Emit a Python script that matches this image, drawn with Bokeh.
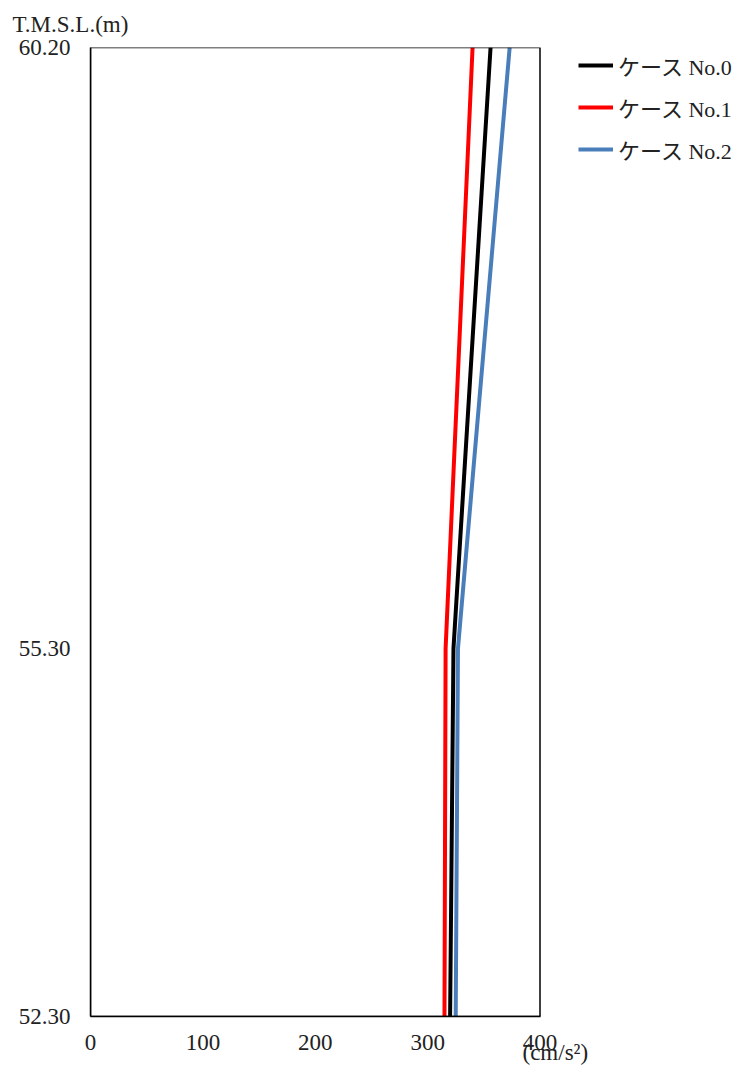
from bokeh.plotting import figure
from bokeh.models import Range1d, FixedTicker, BoxAnnotation, Legend, LegendItem, Title
from bokeh.embed import file_html
from bokeh.resources import INLINE

# ---- data ----
elevation = [60.20, 55.30, 52.30]
case0 = [356, 323, 320]
case1 = [340, 316, 315]
case2 = [373, 327, 325]
series_names = ["ケース No.0", "ケース No.1", "ケース No.2"]
series_colors = ["#000000", "#FF0000", "#4A7EBB"]
x_ticks = [0, 100, 200, 300, 400]
y_ticks = [60.20, 55.30, 52.30]
y_tick_labels = {60.2: "60.20", 55.3: "55.30", 52.3: "52.30"}

SERIF = "'Liberation Serif', 'Noto Sans CJK JP'"
TXT = "#222222"

W, H = 745, 1066
left_b, right_b, top_b, bot_b = 90, 0, 47, 50
frame_w = W - left_b - right_b
box_w = 449.5
x_end = 400 * frame_w / box_w

p = figure(width=W, height=H, output_backend="svg", toolbar_location=None,
           x_range=Range1d(0, x_end), y_range=Range1d(52.3, 60.2),
           min_border_left=left_b, min_border_right=right_b,
           min_border_top=top_b, min_border_bottom=bot_b)
p.grid.visible = False
p.outline_line_color = None
p.background_fill_color = "white"
p.border_fill_color = "white"

renderers = []
for vals, col in zip([case0, case1, case2], series_colors):
    r = p.line(vals, elevation, line_color=col, line_width=4)
    renderers.append(r)

# frame box
p.add_layout(BoxAnnotation(left=0, right=400, bottom=52.3, top=60.2,
                           fill_alpha=0, line_color="black", line_alpha=1.0,
                           line_width=1.5))

xa = p.xaxis[0]
xa.ticker = FixedTicker(ticks=x_ticks)
xa.bounds = (0, 400)
xa.axis_line_color = "black"
xa.axis_line_width = 1.5
xa.major_tick_line_color = None
xa.minor_tick_line_color = None
xa.major_tick_out = 0
xa.major_tick_in = 0
xa.minor_tick_out = 0
xa.major_label_standoff = 18
xa.major_label_text_font = SERIF
xa.major_label_text_font_size = "23px"
xa.major_label_text_color = TXT

ya = p.yaxis[0]
ya.ticker = FixedTicker(ticks=y_ticks)
ya.major_label_overrides = y_tick_labels
ya.axis_line_color = "black"
ya.axis_line_width = 1.5
ya.major_tick_line_color = None
ya.minor_tick_line_color = None
ya.major_tick_out = 0
ya.major_tick_in = 0
ya.minor_tick_out = 0
ya.major_label_standoff = 20
ya.major_label_text_font = SERIF
ya.major_label_text_font_size = "23px"
ya.major_label_text_color = TXT

# vertical axis title (above the plot, left aligned)
p.add_layout(Title(text="T.M.S.L.(m)", align="left", offset=-78, standoff=19,
                   vertical_align="middle",
                   text_font=SERIF, text_font_size="23px", text_color=TXT,
                   text_font_style="normal"), "above")

# unit label under the right end of the x axis
p.add_layout(Title(text="(cm/s²)", align="left", offset=432, standoff=-26,
                   vertical_align="top",
                   text_font=SERIF, text_font_size="23px", text_color=TXT,
                   text_font_style="normal"), "below")

legend = Legend(items=[LegendItem(label=n, renderers=[r]) for n, r in zip(series_names, renderers)],
                location=(488, 851), orientation="vertical",
                border_line_color=None, background_fill_alpha=0,
                padding=0, margin=0, spacing=10, label_height=30,
                glyph_height=30, glyph_width=35, label_standoff=5,
                label_text_font=SERIF, label_text_font_size="22px",
                label_text_color=TXT)
p.add_layout(legend, "center")

open("out.html", "w").write(file_html(p, INLINE))
